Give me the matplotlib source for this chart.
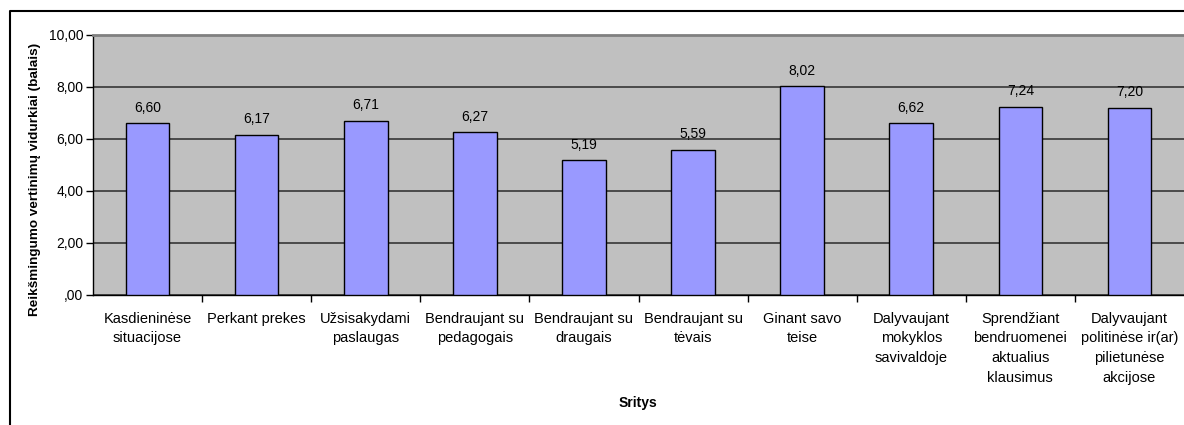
import matplotlib.pyplot as plt
from matplotlib.lines import Line2D

# Data
categories = ['Kasdieninėse\nsituacijose', 'Perkant prekes', 'Užsisakydami\npaslaugas',
              'Bendraujant su\npedagogais', 'Bendraujant su\ndraugais', 'Bendraujant su\ntėvais',
              'Ginant savo\nteise', 'Dalyvaujant\nmokyklos\nsavivaldoje',
              'Sprendžiant\nbendruomenei\naktualius\nklausimus',
              'Dalyvaujant\npolitinėse ir(ar)\npilietunėse\nakcijose']
values = [6.60, 6.17, 6.71, 6.27, 5.19, 5.59, 8.02, 6.62, 7.24, 7.20]
yticks = [0, 2, 4, 6, 8, 10]
ytick_labels = [',00', '2,00', '4,00', '6,00', '8,00', '10,00']

plt.rcParams['font.family'] = ['Liberation Sans', 'DejaVu Sans']

W, H = 1184, 425
fig = plt.figure(figsize=(W / 100, H / 100), dpi=100)
ax = fig.add_axes([93 / W, 1 - 295 / H, (W - 93) / W, 260 / H])

ax.set_facecolor('#C0C0C0')
x = list(range(len(values)))
ax.bar(x, values, width=0.4, color='#9999FF', edgecolor='black', linewidth=1, zorder=3)
for xi, v in zip(x, values):
    ax.annotate(f'{v:.2f}'.replace('.', ','), xy=(xi, v), xytext=(0, 6),
                textcoords='offset points', ha='center', va='bottom', fontsize=10)

ax.set_xlim(-0.5, len(values) - 0.5)
ax.set_ylim(0, 10)
ax.set_yticks(yticks)
ax.set_yticklabels(ytick_labels, fontsize=10)
ax.yaxis.grid(True, color='#2a2a2a', linewidth=1.1, zorder=1)
ax.set_axisbelow(True)

# category labels centred, ticks at boundaries
ax.set_xticks(x)
ax.set_xticklabels(categories, fontsize=10.5, linespacing=1.52, va='top')
ax.tick_params(axis='x', length=0, pad=12)
ax.set_xticks([i + 0.5 for i in x[:-1]], minor=True)
ax.tick_params(axis='x', which='minor', length=5, width=1, color='black', direction='out')
ax.tick_params(axis='y', length=5, width=1, direction='out', pad=2)

ax.spines['top'].set_color('#808080')
ax.spines['top'].set_linewidth(2)
ax.spines['right'].set_visible(False)
ax.spines['left'].set_linewidth(1)
ax.spines['bottom'].set_linewidth(1)

fig.text(35 / W, 1 - 179 / H, 'Reikšmingumo vertinimų vidurkiai (balais)', rotation=90,
         ha='center', va='center', fontsize=9.7, fontweight='bold')
fig.text(638 / W, 1 - 403 / H, 'Sritys', ha='center', va='center', fontsize=10, fontweight='bold')

# outer chart frame
fig.add_artist(Line2D([9.5 / W, 9.5 / W, 1], [0, 1 - 10.5 / H, 1 - 10.5 / H],
                      transform=fig.transFigure, color='black', linewidth=1.5))

fig.savefig('out.png', dpi=100)
